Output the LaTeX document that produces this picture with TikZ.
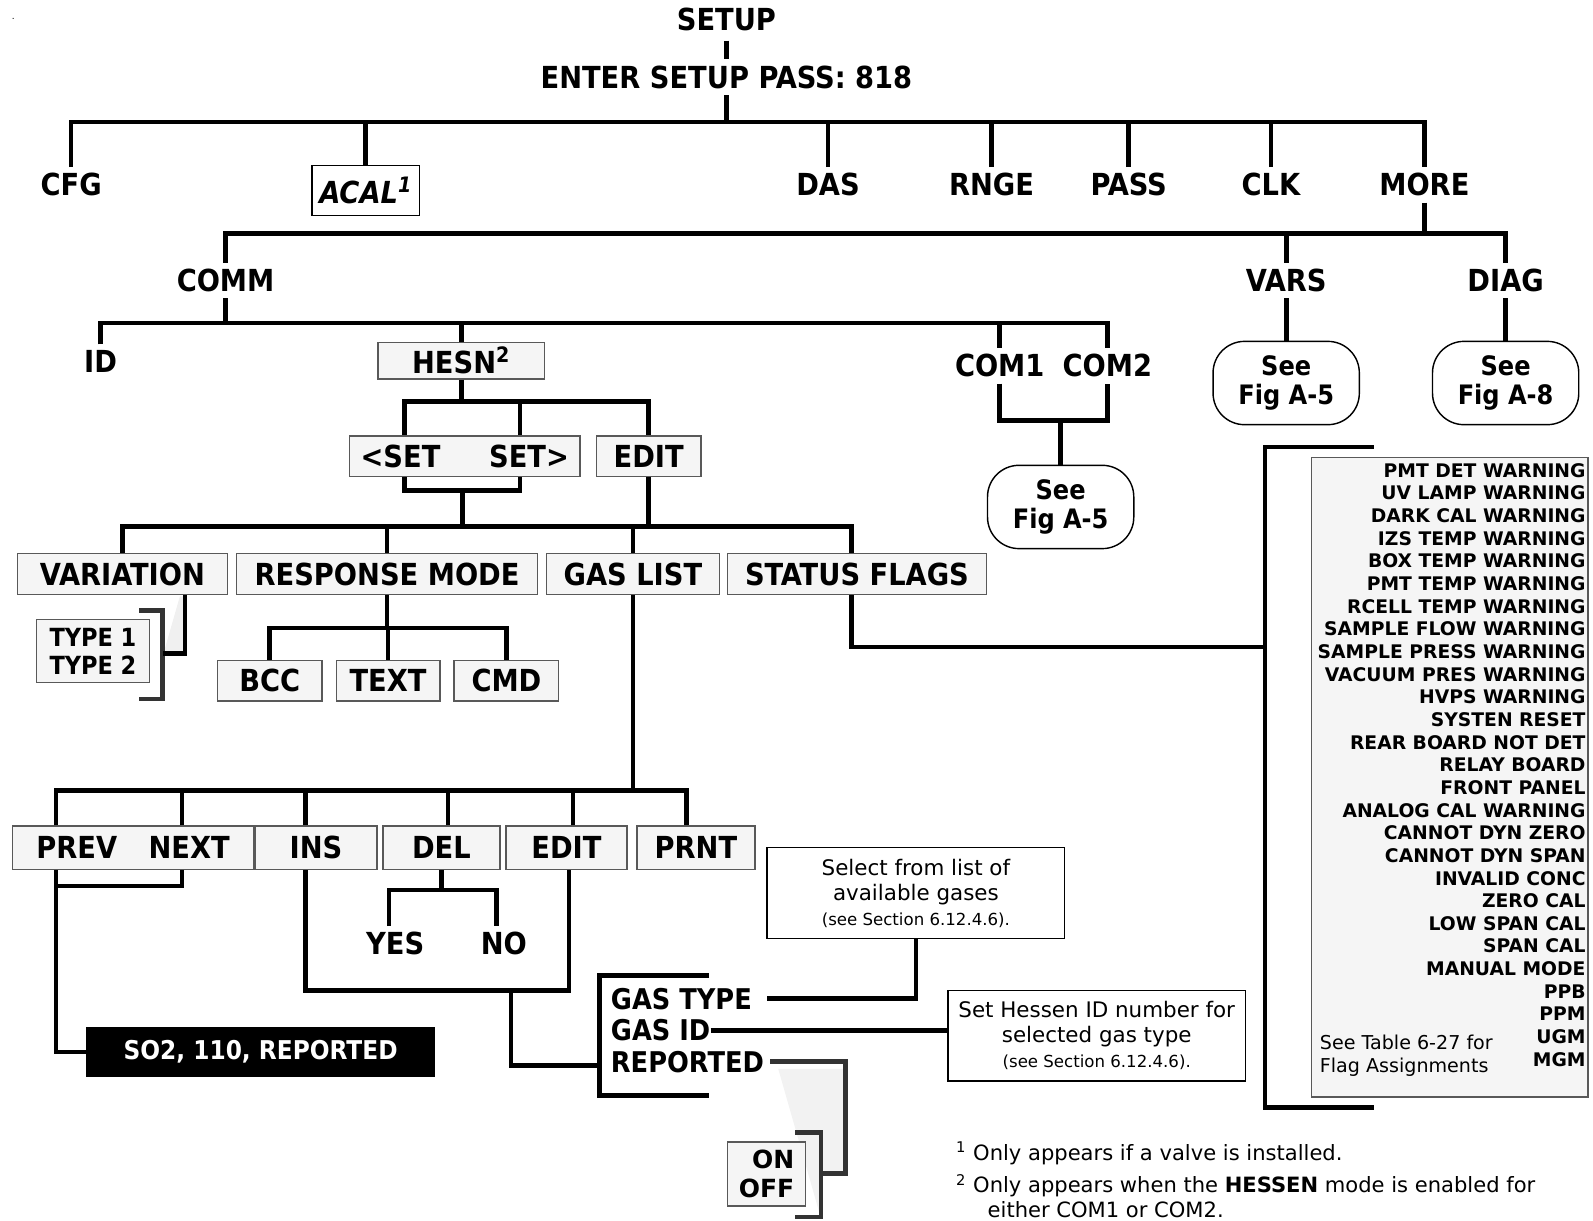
\documentclass[tikz,border=0pt]{standalone}
\usepackage{fontspec}
\setmainfont{DejaVu Sans}
\newfontfamily\condfont{DejaVu Sans Condensed}
\usepackage{tikz}

\tikzset{
  lbl/.style={font=\condfont\bfseries\fontsize{17}{20}\selectfont},
  mbox/.style={lbl, draw=black!65, fill=black!4, line width=0.8pt, minimum height=0.8cm, inner sep=0pt},
  tline/.style={line width=2.6pt},
  gline/.style={line width=2.6pt, draw=black!80},
  seeoval/.style={draw, line width=0.8pt, rounded corners=0.62cm, minimum width=2.88cm, minimum height=1.64cm, align=center, font=\condfont\bfseries\fontsize{15}{16}\selectfont},
  note/.style={draw, line width=0.8pt, align=center, minimum width=5.86cm, minimum height=1.8cm, font=\fontsize{12}{14}\selectfont},
  flag/.style={anchor=east, inner sep=0pt, font=\bfseries\fontsize{10.5}{12}\selectfont},
  gasitem/.style={lbl, anchor=west, inner xsep=0pt, font=\condfont\bfseries\fontsize{16}{18}\selectfont},
  foot/.style={anchor=west, font=\fontsize{11.8}{14}\selectfont},
}

\begin{document}
\begin{tikzpicture}[x=0.02cm, y=-0.02cm]
\useasboundingbox (0,0) rectangle (1568,1201);

\node[font=\tiny] (dot) at (13,19) {.};
\node[lbl] (setup) at (715,19) {SETUP};
\node[lbl] (pass) at (715,76) {ENTER SETUP PASS: 818};

\node[lbl] (cfg) at (70,182) {CFG};
\node[lbl, draw, line width=0.8pt, minimum width=2.12cm, minimum height=0.98cm, inner sep=0pt] (acal) at (360,187.5) {\textit{ACAL\textsuperscript{1}}};
\node[lbl] (das) at (815,182) {DAS};
\node[lbl] (rnge) at (976,182) {RNGE};
\node[lbl] (pwd) at (1111,182) {PASS};
\node[lbl] (clk) at (1251,182) {CLK};
\node[lbl] (more) at (1402,182) {MORE};

\coordinate (bar1) at (715,120);
\draw[tline, shorten <=2pt] (setup.south) -- (pass.north);
\draw[tline] (pass.south) -- (bar1);
\draw[tline] (cfg.north) -- (cfg.north |- bar1) -- (more.north |- bar1) -- (more.north);
\foreach \n in {acal,das,rnge,pwd,clk}
  \draw[tline] (\n.north) -- (\n.north |- bar1);

\node[lbl] (comm) at (222,276) {COMM};
\node[lbl] (vars) at (1266,276) {VARS};
\node[lbl] (diag) at (1482,276) {DIAG};
\coordinate (bar2) at (0,230);
\draw[tline] (more.south) -- (more.south |- bar2);
\draw[tline] (comm.north) -- (comm.north |- bar2) -- (diag.north |- bar2) -- (diag.north);
\draw[tline] (vars.north) -- (vars.north |- bar2);

\node[seeoval] (seevars) at (1266,377) {See\\Fig A-5};
\node[seeoval] (seediag) at (1482,377) {See\\Fig A-8};
\draw[tline] (vars.south) -- (seevars.north);
\draw[tline] (diag.south) -- (seediag.north);

\node[lbl] (id) at (99,356) {ID};
\node[mbox, minimum width=3.28cm, minimum height=0.72cm] (hesn) at (454,355) {HESN\textsuperscript{2}};
\node[lbl] (com1) at (984,360) {COM1};
\node[lbl] (com2) at (1090,360) {COM2};
\coordinate (bar3) at (0,318);
\draw[tline] (comm.south) -- (comm.south |- bar3);
\draw[tline] (id.north) -- (id.north |- bar3) -- (com2.north |- bar3) -- (com2.north);
\draw[tline] (hesn.north) -- (hesn.north |- bar3);
\draw[tline] (com1.north) -- (com1.north |- bar3);

\node[seeoval] (seecom) at (1044,499) {See\\Fig A-5};
\coordinate (comjoin) at (1044,414);
\draw[tline] (com1.south) -- (com1.south |- comjoin) -- (com2.south |- comjoin) -- (com2.south);
\draw[tline] (comjoin) -- (seecom.north);

\node[mbox, minimum width=4.54cm] (setbox) at (457.5,449) {<SET\hspace{0.96cm}SET>};
\node[mbox, minimum width=2.06cm] (edita) at (638.5,449) {EDIT};
\coordinate (bar4) at (0,395);
\draw[tline] (hesn.south) -- (hesn.south |- bar4);
\draw[tline] (398,0 |- setbox.north) -- (398,0 |- bar4) -- (edita.north |- bar4) -- (edita.north);
\draw[tline] (512,0 |- setbox.north) -- (512,0 |- bar4);
\coordinate (setjoin) at (455,483);
\draw[tline] (398,0 |- setbox.south) |- (512,0 |- setjoin) -- (512,0 |- setbox.south);

\node[mbox, minimum width=4.14cm] (vari) at (120.5,565) {VARIATION};
\node[mbox, minimum width=5.92cm] (resp) at (381,565) {RESPONSE MODE};
\node[mbox, minimum width=3.4cm] (glist) at (623,565) {GAS LIST};
\node[mbox, minimum width=5.1cm] (flags) at (843.5,565) {STATUS FLAGS};
\coordinate (bar5) at (0,518);
\draw[tline] (setjoin) -- (setjoin |- bar5);
\draw[tline] (edita.south) -- (edita.south |- bar5);
\draw[tline] (vari.north) -- (vari.north |- bar5) -- (838,0 |- bar5) -- (838,0 |- flags.north);
\draw[tline] (resp.north) -- (resp.north |- bar5);
\draw[tline] (glist.north) -- (glist.north |- bar5);

\fill[black!6] (177,587) -- (182,587) -- (182,643) -- (161,643) -- cycle;
\node[mbox, font=\condfont\bfseries\fontsize{14}{16}\selectfont, align=left, minimum width=2.22cm, minimum height=1.24cm] (types) at (91.5,641) {TYPE 1\\TYPE 2};
\draw[gline] (137,601) -- (160,601) -- (160,688) -- (137,688);
\draw[tline] (182,0 |- vari.south) |- (160,643);

\node[mbox, minimum width=2.06cm] (bcc) at (265.5,670) {BCC};
\node[mbox, minimum width=2.04cm] (txt) at (382,670) {TEXT};
\node[mbox, minimum width=2.06cm] (cmd) at (498.5,670) {CMD};
\coordinate (bar6) at (0,618);
\draw[tline] (resp.south) -- (resp.south |- bar6);
\draw[tline] (bcc.north) -- (bcc.north |- bar6) -- (cmd.north |- bar6) -- (cmd.north);
\draw[tline] (txt.north) -- (txt.north |- bar6);

\node[mbox, minimum width=4.76cm, minimum height=0.86cm] (pn) at (131,834.5) {PREV\hspace{0.62cm}NEXT};
\node[mbox, minimum width=2.4cm, minimum height=0.86cm] (ins) at (311,834.5) {INS};
\node[mbox, minimum width=2.3cm, minimum height=0.86cm] (del) at (434.5,834.5) {DEL};
\node[mbox, minimum width=2.38cm, minimum height=0.86cm] (editb) at (557.5,834.5) {EDIT};
\node[mbox, minimum width=2.32cm, minimum height=0.86cm] (prnt) at (685,834.5) {PRNT};
\coordinate (bar7) at (0,778);
\draw[tline] (glist.south) -- (glist.south |- bar7);
\draw[tline] (55,0 |- pn.north) -- (55,0 |- bar7) -- (676,0 |- bar7) -- (676,0 |- prnt.north);
\foreach \x/\n in {179/pn,301/ins,441/del,564/editb}
  \draw[tline] (\x,0 |- \n.north) -- (\x,0 |- bar7);

\node[lbl, fill=black, text=white, font=\condfont\bfseries\fontsize{14.5}{16}\selectfont, minimum width=6.86cm, minimum height=0.98cm] (so2) at (256.5,1035.5) {SO2, 110, REPORTED};
\draw[tline] (179,0 |- pn.south) |- (55,872);
\draw[tline] (55,0 |- pn.south) |- (so2.west);

\node[lbl] (yes) at (389,929) {YES};
\node[lbl] (no) at (496,929) {NO};
\coordinate (bar8) at (0,876);
\draw[tline] (del.south) -- (del.south |- bar8);
\draw[tline] (383,0 |- yes.north) -- (383,0 |- bar8) -- (489,0 |- bar8) -- (489,0 |- no.north);

\coordinate (bar9) at (0,975);
\draw[tline] (301,0 |- ins.south) |- (560,0 |- bar9) -- (560,0 |- editb.south);

\node[gasitem] (gtype) at (601,983) {GAS TYPE};
\node[gasitem] (gid) at (601,1014) {GAS ID};
\node[gasitem] (grep) at (601,1045) {REPORTED};
\draw[tline] (503,0 |- bar9) |- (590,1049);
\draw[tline] (698,960) -- (590,960) -- (590,1078) -- (698,1078);

\node[note] (selnote) at (901.5,879) {Select from list of\\available gases\\{\fontsize{9.3}{11}\selectfont (see Section 6.12.4.6).}};
\node[note, minimum height=1.78cm] (hesnote) at (1079.5,1019.5) {Set Hessen ID number for\\selected gas type\\{\fontsize{9.3}{11}\selectfont (see Section 6.12.4.6).}};
\draw[tline, shorten <=0.3cm] (gtype.east) -| (selnote.south);
\draw[tline] (gid.east) -- (gid.east -| hesnote.west);

\fill[black!5] (766,1052) -- (832,1052) -- (832,1155) -- (808,1155) -- (806,1192) -- cycle;
\draw[gline, shorten <=0.12cm] (grep.east) -| (832,1155) -- (808,1155);
\node[mbox, font=\bfseries\fontsize{14}{16}\selectfont, align=right, minimum width=1.54cm, minimum height=1.26cm] (onoff) at (754.5,1155.5) {ON\\OFF};
\draw[gline] (783,1115) -- (808,1115) -- (808,1198) -- (783,1198);

\draw[tline] (838,0 |- flags.south) |- (1245,637);
\draw[tline] (1352,440) -- (1245,440) -- (1245,1090) -- (1352,1090);
\node[draw=black!65, fill=black!4, line width=0.8pt, minimum width=5.44cm, minimum height=12.6cm] (flagbox) at (1427,765) {};
\foreach \f [count=\i] in {PMT DET WARNING, UV LAMP WARNING, DARK CAL WARNING, IZS TEMP WARNING,
    BOX TEMP WARNING, PMT TEMP WARNING, RCELL TEMP WARNING, SAMPLE FLOW WARNING,
    SAMPLE PRESS WARNING, VACUUM PRES WARNING, HVPS WARNING, SYSTEN RESET,
    REAR BOARD NOT DET, RELAY BOARD, FRONT PANEL, ANALOG CAL WARNING,
    CANNOT DYN ZERO, CANNOT DYN SPAN, INVALID CONC, ZERO CAL, LOW SPAN CAL,
    SPAN CAL, MANUAL MODE, PPB, PPM, UGM, MGM}
  \node[flag] (f\i) at (1561,{463+22.3*(\i-1)}) {\f};
\node[anchor=west, align=left, font=\fontsize{10.7}{12.5}\selectfont] (tabref) at (1293,1039) {See Table 6-27 for\\Flag Assignments};

\node[foot] (fn1) at (935,1135) {\textsuperscript{1} Only appears if a valve is installed.};
\node[foot] (fn2) at (935,1167) {\textsuperscript{2} Only appears when the \textbf{HESSEN} mode is enabled for};
\node[foot] (fn3) at (966,1191) {either COM1 or COM2.};
\end{tikzpicture}
\end{document}
